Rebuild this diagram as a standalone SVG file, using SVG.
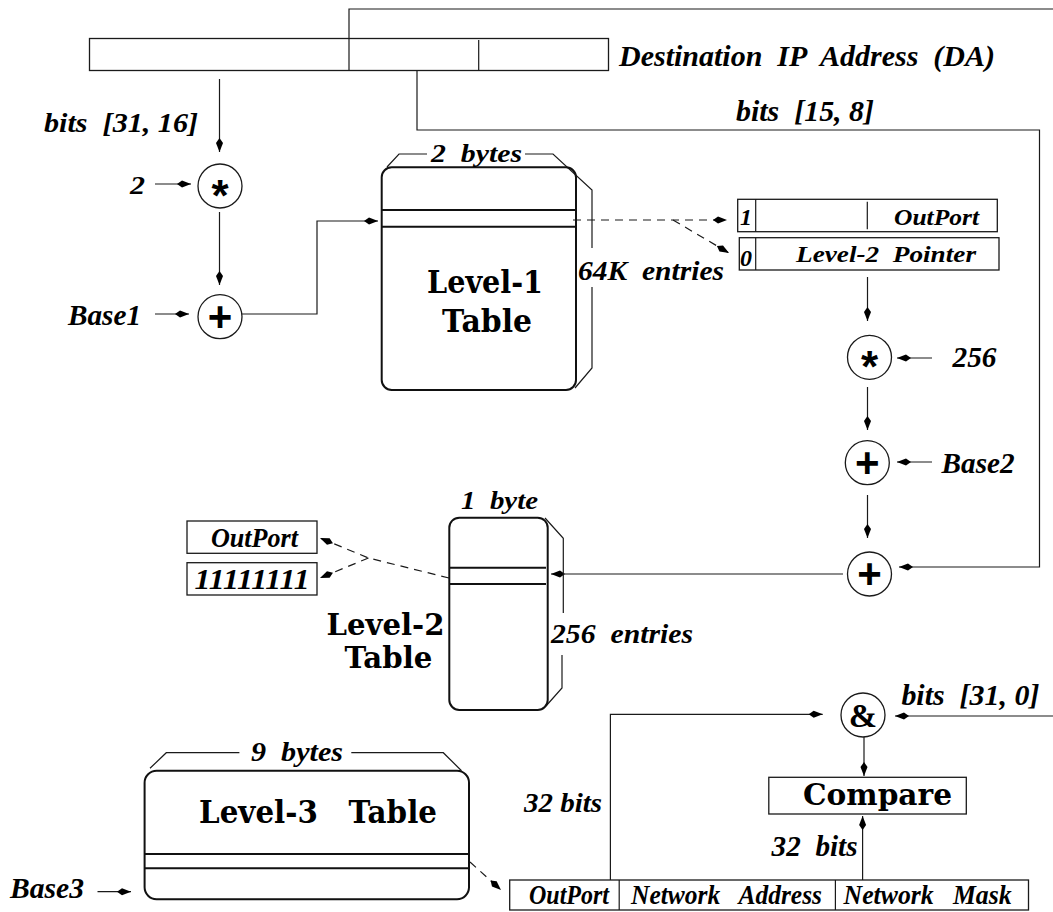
<svg xmlns="http://www.w3.org/2000/svg" width="1053" height="912" viewBox="0 0 1053 912">
<style>
.ln{stroke:#1a1a1a;stroke-width:1.2;fill:none}
.tk{stroke:#111;stroke-width:2;fill:none}
.bx{stroke:#1a1a1a;stroke-width:1.3;fill:#fff}
.ds{stroke-dasharray:8 6}
.ar{marker-end:url(#ah)}
.it{font-family:"Liberation Serif","Times New Roman",serif;font-weight:bold;font-style:italic;fill:#000}
.bd{font-family:"DejaVu Serif","Liberation Serif",serif;font-weight:bold;fill:#000}
.op{font-family:"Liberation Sans",Arial,sans-serif;font-weight:bold;fill:#000;text-anchor:middle}
</style>
<defs>
<marker id="ah" viewBox="-15 -5 16 10" refX="0" refY="0" markerWidth="16" markerHeight="10" orient="auto" markerUnits="userSpaceOnUse">
<path d="M0,0 L-9,-3.5 L-14,0 L-9,3.5 Z" fill="#000"/>
</marker>
</defs>

<g id="connectors">
<path class="ln" d="M349,69 L349,9 L1053,9"/>
<path class="ln ar" d="M219.5,79 L219.5,152"/>
<path class="ln ar" d="M155,184 L191,184"/>
<path class="ln ar" d="M219.5,212 L219.5,285"/>
<path class="ln ar" d="M155,314 L189,314"/>
<path class="ln ar" d="M242,314 L317,314 L317,221 L378,221"/>
<path class="ln ar" d="M417,71 L417,130 L1039.5,130 L1039.5,567 L899,567"/>
<path class="ln ds ar" d="M573,220 L727,220"/>
<path class="ln ds ar" d="M673,220 L729,253"/>
<path class="ln ar" d="M867.5,277 L867.5,321"/>
<path class="ln ar" d="M932,358 L897,358"/>
<path class="ln ar" d="M867.5,387 L867.5,430"/>
<path class="ln ar" d="M932,462 L897,462"/>
<path class="ln ar" d="M867.5,495 L867.5,538"/>
<path class="ln ar" d="M843,574 L551,574"/>
<path class="ln ds ar" d="M449,578 L368.5,558 L320,538"/>
<path class="ln ds ar" d="M368.5,558 L320,578"/>
<path class="ln ds ar" d="M470,862 L501,890"/>
<path class="ln ar" d="M97.5,891.7 L131,891.7"/>
<path class="ln ar" d="M610.4,880 L610.4,714.3 L822.7,714.3"/>
<path class="ln ar" d="M1053,716 L895,716"/>
<path class="ln ar" d="M864,737 L864,776"/>
<path class="ln ar" d="M862.6,880 L862.6,816"/>
</g>

<g id="da">
<rect class="bx" x="89.5" y="38.5" width="519" height="32"/>
<path class="ln" d="M349,38.5 L349,70 M478.7,40 L478.7,70"/>
<text class="it" x="619" y="65.5" font-size="30" textLength="376" lengthAdjust="spacingAndGlyphs" xml:space="preserve">Destination  IP  Address  (DA)</text>
</g>

<g id="labels">
<text class="it" x="736" y="120.5" font-size="29" textLength="138" lengthAdjust="spacingAndGlyphs" xml:space="preserve">bits  [15, 8]</text>
<text class="it" x="44" y="132" font-size="28" textLength="154" lengthAdjust="spacingAndGlyphs" xml:space="preserve">bits  [31, 16]</text>
<text class="it" x="130" y="193.5" font-size="25" textLength="15" lengthAdjust="spacingAndGlyphs">2</text>
<text class="it" x="68" y="325" font-size="30" textLength="73" lengthAdjust="spacingAndGlyphs">Base1</text>
<text class="it" x="952.5" y="367" font-size="29" textLength="44" lengthAdjust="spacingAndGlyphs">256</text>
<text class="it" x="941.6" y="472.7" font-size="30" textLength="73" lengthAdjust="spacingAndGlyphs">Base2</text>
<text class="it" x="901.4" y="705" font-size="29" textLength="138" lengthAdjust="spacingAndGlyphs" xml:space="preserve">bits  [31, 0]</text>
<text class="it" x="524" y="811.7" font-size="27" textLength="78" lengthAdjust="spacingAndGlyphs">32 bits</text>
<text class="it" x="771.6" y="856" font-size="29" textLength="86" lengthAdjust="spacingAndGlyphs" xml:space="preserve">32  bits</text>
<text class="it" x="10" y="898" font-size="29" textLength="74" lengthAdjust="spacingAndGlyphs">Base3</text>
</g>

<g id="mul1">
<circle class="bx" cx="220" cy="186" r="22"/>
<text class="op" x="220" y="211" font-size="44">*</text>
</g>
<g id="add1">
<circle class="bx" cx="220" cy="316.7" r="22"/>
<text class="op" x="220" y="331" font-size="42">+</text>
</g>

<g id="level1">
<path class="ln" d="M387,167 L399,154 L427,154 M525,154 L553,154 L592,190 L592,248 M592,287 L592,368 L575,388"/>
<rect class="tk" x="381.7" y="167.3" width="194.3" height="222.7" rx="10" fill="#fff"/>
<path class="tk" d="M382,210 L575,210 M382,226.7 L575,226.7"/>
<text class="it" x="431" y="161.5" font-size="25" textLength="91" lengthAdjust="spacingAndGlyphs" xml:space="preserve">2  bytes</text>
<text class="bd" x="427" y="293" font-size="31" textLength="116" lengthAdjust="spacingAndGlyphs">Level-1</text>
<text class="bd" x="442" y="332" font-size="31" textLength="90" lengthAdjust="spacingAndGlyphs">Table</text>
<text class="it" x="578" y="280" font-size="28" textLength="146" lengthAdjust="spacingAndGlyphs" xml:space="preserve">64K  entries</text>
</g>

<g id="entry1">
<rect class="bx" x="737.7" y="199.3" width="259.6" height="32.4"/>
<path class="ln" d="M755.7,199.3 L755.7,231.7 M867.3,201.7 L867.3,229.3"/>
<text class="it" x="740" y="225" font-size="23" textLength="12" lengthAdjust="spacingAndGlyphs">1</text>
<text class="it" x="894" y="225" font-size="23" textLength="85" lengthAdjust="spacingAndGlyphs">OutPort</text>
</g>
<g id="entry0">
<rect class="bx" x="739.3" y="237.7" width="259.7" height="32.3"/>
<path class="ln" d="M755.7,237.7 L755.7,270"/>
<text class="it" x="740" y="266" font-size="23" textLength="12" lengthAdjust="spacingAndGlyphs">0</text>
<text class="it" x="796" y="262" font-size="23" textLength="180" lengthAdjust="spacingAndGlyphs" xml:space="preserve">Level-2  Pointer</text>
</g>

<g id="mul2">
<circle class="bx" cx="869.5" cy="357.3" r="22"/>
<text class="op" x="869.5" y="382.3" font-size="44">*</text>
</g>
<g id="add2">
<circle class="bx" cx="867.3" cy="462.7" r="22"/>
<text class="op" x="867.3" y="477" font-size="42">+</text>
</g>
<g id="add3">
<circle class="bx" cx="869.5" cy="574" r="22"/>
<text class="op" x="869.5" y="588.3" font-size="42">+</text>
</g>

<g id="level2">
<path class="ln" d="M545,518 L563.3,538.3 L563.3,613 M562,655 L562,688 L546,706"/>
<rect class="tk" x="449.3" y="517.7" width="98.4" height="192.3" rx="10" fill="#fff"/>
<path class="tk" d="M449.3,567.7 L546,567.7 M449.3,584 L546,584"/>
<text class="it" x="461" y="509" font-size="25" textLength="77" lengthAdjust="spacingAndGlyphs" xml:space="preserve">1  byte</text>
<text class="bd" x="326.5" y="634.5" font-size="29" textLength="118" lengthAdjust="spacingAndGlyphs">Level-2</text>
<text class="bd" x="344.4" y="667.5" font-size="29" textLength="88" lengthAdjust="spacingAndGlyphs">Table</text>
<text class="it" x="551" y="643" font-size="28" textLength="142" lengthAdjust="spacingAndGlyphs" xml:space="preserve">256  entries</text>
</g>

<g id="outport2">
<rect class="bx" x="187" y="521" width="130" height="32.3"/>
<text class="it" x="211" y="546.7" font-size="27" textLength="87" lengthAdjust="spacingAndGlyphs">OutPort</text>
</g>
<g id="ones">
<rect class="bx" x="187" y="562.7" width="130" height="32.3"/>
<text class="it" x="194.6" y="589.3" font-size="30" textLength="115" lengthAdjust="spacingAndGlyphs">11111111</text>
</g>

<g id="level3">
<path class="ln" d="M150,768.3 L166.3,752.7 L239.4,752.7 M351.3,752.7 L443.3,752.7 L461.5,770.7"/>
<rect class="tk" x="144.6" y="770.7" width="324.4" height="128.6" rx="12" fill="#fff"/>
<path class="tk" d="M145,854 L468,854 M145,868.3 L468,868.3"/>
<text class="it" x="251" y="760.7" font-size="27" textLength="92" lengthAdjust="spacingAndGlyphs" xml:space="preserve">9  bytes</text>
<text class="bd" x="199" y="823" font-size="31" textLength="238" lengthAdjust="spacingAndGlyphs" xml:space="preserve">Level-3   Table</text>
</g>

<g id="and">
<circle class="bx" cx="863" cy="715" r="22"/>
<text x="863" y="727" font-size="34" text-anchor="middle" font-family="Liberation Serif, serif" font-weight="bold">&amp;</text>
</g>

<g id="compare">
<rect class="bx" x="768.8" y="777.3" width="197.5" height="36.7"/>
<text class="bd" x="803" y="804.5" font-size="29" textLength="149" lengthAdjust="spacingAndGlyphs">Compare</text>
</g>

<g id="entry3">
<rect class="bx" x="509.7" y="880" width="518.8" height="30"/>
<path class="ln" d="M619.2,880 L619.2,910 M835.4,880 L835.4,910"/>
<text class="it" x="529" y="903.5" font-size="27" textLength="80" lengthAdjust="spacingAndGlyphs">OutPort</text>
<text class="it" x="631" y="903.5" font-size="27" textLength="191" lengthAdjust="spacingAndGlyphs" xml:space="preserve">Network   Address</text>
<text class="it" x="843.6" y="903.5" font-size="27" textLength="168" lengthAdjust="spacingAndGlyphs" xml:space="preserve">Network   Mask</text>
</g>
</svg>
